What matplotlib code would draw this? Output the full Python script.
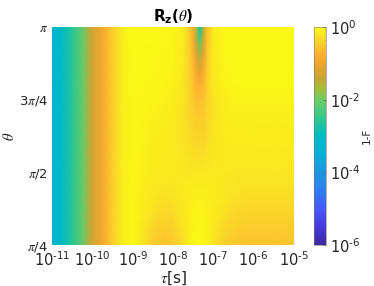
import matplotlib
matplotlib.use('Agg')
import matplotlib.pyplot as plt
from matplotlib.colors import LinearSegmentedColormap, LogNorm
import numpy as np

# colour stops (exponent, rgb)
cmap_exp = [-6, -5.5, -5, -4.5, -4, -3.5, -3, -2.5, -2, -1.7, -1.4, -1, -0.7, -0.3, 0]
cmap_rgb = ['#3c28a0', '#4638dc', '#465af8', '#2d7df0', '#1e96e1', '#0aafd7', '#00bcc4',
            '#32c88c', '#6ecd64', '#a5be3c', '#c8a532', '#f0a52d', '#ffb432', '#fadc28', '#fafa14']

# log10(tau), left stripes are the same for every theta
log_tau_left = [-11, -10.75, -10.5, -10.25, -10, -9.75, -9.5, -9.25]
exp_left = [-3.3, -3.05, -2.6, -2.1, -1.3, -0.9, -0.45, -0.12]
log_tau_right = [-9, -8.75, -8.5, -8.25, -8, -7.75, -7.6, -7.5, -7.42, -7.33, -7.25, -7.15, -7,
                 -6.75, -6.5, -6.25, -6, -5.5, -5]
theta_frac = [0.25, 0.3, 0.35, 0.4, 0.45, 0.5, 0.55, 0.6, 0.65, 0.7, 0.75, 0.8, 0.85, 0.9, 0.95, 1.0]

# log10(1-F) on the right part, one row per theta, bottom to top
exp_right = [
    [-0.02, -0.22, -0.45, -0.55, -0.5, -0.3, -0.12, -0.05, -0.02, -0.02, -0.02, -0.07, -0.2, -0.4, -0.5, -0.55, -0.56, -0.56, -0.56],
    [-0.03, -0.18, -0.38, -0.46, -0.42, -0.24, -0.11, -0.06, -0.04, -0.04, -0.05, -0.08, -0.18, -0.33, -0.43, -0.47, -0.48, -0.48, -0.48],
    [-0.03, -0.14, -0.29, -0.36, -0.33, -0.19, -0.11, -0.07, -0.06, -0.06, -0.06, -0.09, -0.15, -0.26, -0.34, -0.38, -0.39, -0.39, -0.39],
    [-0.04, -0.12, -0.22, -0.27, -0.26, -0.17, -0.12, -0.1, -0.09, -0.09, -0.1, -0.11, -0.14, -0.21, -0.27, -0.3, -0.31, -0.31, -0.31],
    [-0.05, -0.11, -0.18, -0.21, -0.21, -0.17, -0.15, -0.13, -0.13, -0.13, -0.13, -0.13, -0.15, -0.18, -0.22, -0.24, -0.25, -0.25, -0.25],
    [-0.05, -0.1, -0.16, -0.17, -0.18, -0.19, -0.19, -0.19, -0.18, -0.18, -0.18, -0.18, -0.18, -0.18, -0.19, -0.2, -0.2, -0.2, -0.2],
    [-0.05, -0.09, -0.14, -0.16, -0.17, -0.21, -0.24, -0.25, -0.26, -0.26, -0.26, -0.24, -0.2, -0.17, -0.17, -0.17, -0.17, -0.17, -0.17],
    [-0.05, -0.08, -0.13, -0.15, -0.17, -0.23, -0.28, -0.32, -0.34, -0.35, -0.34, -0.29, -0.22, -0.16, -0.15, -0.15, -0.15, -0.15, -0.15],
    [-0.05, -0.07, -0.11, -0.13, -0.16, -0.24, -0.31, -0.37, -0.41, -0.43, -0.41, -0.33, -0.23, -0.15, -0.13, -0.13, -0.13, -0.13, -0.13],
    [-0.04, -0.06, -0.09, -0.11, -0.15, -0.25, -0.35, -0.43, -0.48, -0.5, -0.47, -0.37, -0.24, -0.14, -0.11, -0.11, -0.11, -0.11, -0.11],
    [-0.04, -0.05, -0.06, -0.08, -0.12, -0.23, -0.37, -0.49, -0.57, -0.6, -0.56, -0.39, -0.23, -0.12, -0.08, -0.08, -0.08, -0.08, -0.08],
    [-0.03, -0.04, -0.05, -0.06, -0.09, -0.2, -0.38, -0.54, -0.68, -0.78, -0.66, -0.42, -0.2, -0.08, -0.05, -0.04, -0.04, -0.04, -0.04],
    [-0.03, -0.03, -0.04, -0.05, -0.08, -0.18, -0.4, -0.62, -0.9, -1.1, -0.85, -0.46, -0.18, -0.06, -0.03, -0.03, -0.03, -0.03, -0.03],
    [-0.03, -0.03, -0.04, -0.05, -0.07, -0.17, -0.42, -0.72, -1.15, -1.6, -1.05, -0.5, -0.17, -0.05, -0.03, -0.02, -0.02, -0.02, -0.02],
    [-0.02, -0.03, -0.03, -0.04, -0.07, -0.16, -0.44, -0.8, -1.5, -2.2, -1.35, -0.54, -0.16, -0.05, -0.02, -0.02, -0.02, -0.02, -0.02],
    [-0.02, -0.03, -0.03, -0.04, -0.06, -0.15, -0.45, -0.85, -1.8, -2.9, -1.6, -0.58, -0.15, -0.04, -0.02, -0.02, -0.02, -0.02, -0.02],
]

xtick_exp = ['-11', '-10', '-9', '-8', '-7', '-6', '-5']
ytick_frac = [0.25, 0.5, 0.75, 1.0]
ytick_labels = [r'$\pi$/4', r'$\pi$/2', r'3$\pi$/4', r'$\pi$']
cbar_exp = ['-6', '-4', '-2', '0']


def pow_label(e):
    # short hyphen like the reference, not a long minus
    return r'$\mathregular{10^{\text{%s}}}$' % e


def main():
    text_col = '#262626'
    plt.rcParams['mathtext.fontset'] = 'custom'
    plt.rcParams['mathtext.rm'] = 'DejaVu Sans'
    plt.rcParams['mathtext.bf'] = 'DejaVu Sans:bold'
    plt.rcParams['mathtext.it'] = 'STIXGeneral:italic'
    parula = LinearSegmentedColormap.from_list(
        'parula_like', [((e + 6) / 6, c) for e, c in zip(cmap_exp, cmap_rgb)], N=512)

    tau = 10.0 ** np.array(log_tau_left + log_tau_right)
    theta = np.array(theta_frac) * np.pi
    left = np.tile(exp_left, (len(theta_frac), 1))
    z = 10.0 ** np.hstack([left, np.array(exp_right)])

    fig = plt.figure(figsize=(3.74, 2.86), dpi=100)
    ax = fig.add_axes([52 / 374, 1 - 245 / 286, 242 / 374, 218 / 286])
    mesh = ax.pcolormesh(tau, theta, z, shading='gouraud', cmap=parula,
                         norm=LogNorm(vmin=1e-6, vmax=1))
    ax.set_xscale('log')
    ax.set_xlim(1e-11, 1e-5)
    ax.set_ylim(np.pi / 4, np.pi)
    ax.set_xticks([10.0 ** int(e) for e in xtick_exp])
    ax.set_xticklabels([pow_label(e) for e in xtick_exp])
    ax.minorticks_off()
    ax.set_yticks(np.array(ytick_frac) * np.pi)
    ax.set_yticklabels(ytick_labels)
    ax.tick_params(length=0, labelsize=10.5, colors=text_col, pad=4)
    ax.tick_params(axis='y', labelsize=9.5, pad=3)
    for s in ax.spines.values():
        s.set_visible(False)
    ax.set_xlabel(r'$\tau$[s]', fontsize=11, color=text_col, labelpad=0)
    ax.set_ylabel(r'$\theta$', fontsize=10.5, color=text_col, labelpad=1)
    ax.set_title(r'$\mathbf{R_z(}\theta\mathbf{)}$', fontsize=11, color='black', pad=4)

    cax = fig.add_axes([314 / 374, 1 - 245 / 286, 12 / 374, 218 / 286])
    cb = fig.colorbar(mesh, cax=cax)
    cb.set_ticks([10.0 ** int(e) for e in cbar_exp])
    cb.set_ticklabels([pow_label(e) for e in cbar_exp])
    cb.ax.tick_params(which='major', length=2, width=0.4, color='#555555', direction='in',
                      labelsize=10.5, labelcolor=text_col, pad=3)
    cb.ax.tick_params(which='minor', length=1, width=0.3, color='#777777', direction='in')
    cb.outline.set_linewidth(0.4)
    cb.outline.set_edgecolor('#777777')
    cb.set_label('1-F', fontsize=7.5, color=text_col)
    cb.ax.yaxis.set_label_coords(4.0, 0.5)

    fig.savefig('out.png', dpi=100)


if __name__ == "__main__":
    main()
